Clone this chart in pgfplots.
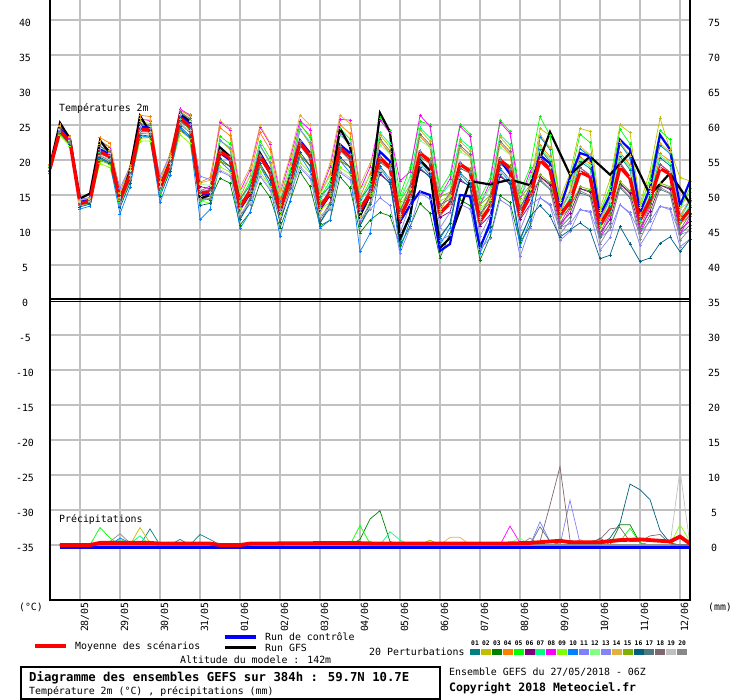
\documentclass[border=0pt]{standalone}
\usepackage{fontspec}
\setmainfont{DejaVu Sans Mono}
\usepackage{pgfplots}
\pgfplotsset{compat=1.18}
\usepackage{pgfplotstable}
\definecolor{c01}{HTML}{008080}
\definecolor{c02}{HTML}{C0C000}
\definecolor{c03}{HTML}{008000}
\definecolor{c04}{HTML}{FF8000}
\definecolor{c05}{HTML}{00FF00}
\definecolor{c06}{HTML}{800080}
\definecolor{c07}{HTML}{00FF80}
\definecolor{c08}{HTML}{FF00FF}
\definecolor{c09}{HTML}{80FF00}
\definecolor{c10}{HTML}{0080FF}
\definecolor{c11}{HTML}{8080FF}
\definecolor{c12}{HTML}{80FF80}
\definecolor{c13}{HTML}{8484F4}
\definecolor{c14}{HTML}{E0B040}
\definecolor{c15}{HTML}{80B000}
\definecolor{c16}{HTML}{006080}
\definecolor{c17}{HTML}{507880}
\definecolor{c18}{HTML}{806870}
\definecolor{c19}{HTML}{C0C0C0}
\definecolor{c20}{HTML}{888888}
\definecolor{gridgray}{HTML}{C0C0C0}
\newcommand\ft{\fontsize{9.9pt}{11pt}\selectfont}
\pgfplotstableread{
k p01 p02 p03 p04 p05 p06 p07 p08 p09 p10 p11 p12 p13 p14 p15 p16 p17 p18 p19 p20 c m
0 18.9 18.9 18.5 19.4 18.6 18.9 18.6 19.0 18.4 18.1 19.3 19.1 18.6 19.2 18.6 18.4 18.8 18.9 18.8 18.6 18.9 18.8
1 24.5 24.6 23.8 25.0 24.1 24.1 24.2 24.8 23.5 23.8 24.4 24.4 24.3 24.8 23.7 23.9 24.1 24.5 24.0 24.0 24.5 24.2
2 22.8 23.0 22.2 23.4 22.5 22.6 22.5 23.1 22.0 22.2 22.8 22.8 22.7 23.2 22.2 22.2 22.5 22.9 22.4 22.4 22.8 22.6
3 13.8 13.8 13.6 14.2 13.5 14.0 13.6 13.8 13.5 13.0 14.4 14.1 13.5 14.2 13.8 13.3 13.9 13.8 13.9 13.6 14.0 13.8
4 14.2 14.2 13.8 14.7 13.9 14.2 13.9 14.3 13.7 13.4 14.6 14.4 13.9 14.5 13.9 13.7 14.1 14.2 14.1 13.9 14.3 14.1
5 21.9 22.3 20.1 23.2 21.0 21.0 21.1 22.7 19.5 20.3 21.6 21.6 21.5 22.7 19.9 20.4 20.9 22.0 20.7 20.6 21.5 21.2
6 21.1 21.4 19.5 22.4 20.2 20.4 20.3 21.8 18.9 19.4 21.1 21.0 20.7 21.9 19.4 19.6 20.3 21.2 20.1 19.9 20.8 20.5
7 14.3 14.3 13.9 15.4 13.6 15.0 13.9 14.5 13.7 12.3 16.0 15.2 13.7 15.3 14.5 13.2 14.7 14.4 14.7 13.8 14.5 14.4
8 18.0 18.1 17.1 19.2 17.2 18.1 17.4 18.4 16.7 16.1 19.0 18.5 17.4 18.9 17.4 16.7 17.9 18.1 17.8 17.2 18.0 17.8
9 25.1 25.5 23.3 26.4 24.2 24.2 24.3 25.9 22.7 23.5 24.8 24.8 24.7 25.9 23.1 23.6 24.1 25.2 23.9 23.8 24.8 24.4
10 24.9 25.2 23.3 26.2 24.0 24.2 24.1 25.6 22.7 23.2 24.9 24.8 24.5 25.7 23.2 23.4 24.1 25.0 23.9 23.7 24.6 24.3
11 15.9 15.9 15.5 17.0 15.2 16.6 15.5 16.1 15.3 13.9 17.6 16.8 15.3 16.9 16.1 14.8 16.3 16.0 16.3 15.4 15.8 16.0
12 19.7 19.8 18.8 20.9 18.9 19.8 19.1 20.1 18.4 17.8 20.7 20.2 19.1 20.6 19.1 18.4 19.6 19.8 19.5 18.9 19.6 19.5
13 26.8 27.2 24.3 27.0 25.7 25.7 25.8 27.3 23.6 24.6 26.4 26.5 26.4 27.1 24.2 24.8 25.5 26.9 25.2 25.1 26.3 26.0
14 25.7 26.2 23.3 26.5 24.3 24.6 24.5 26.4 22.4 23.1 25.7 25.6 25.1 26.3 23.1 23.4 24.5 25.9 24.2 23.9 25.2 24.8
15 15.1 15.1 14.5 16.8 14.1 16.2 14.5 15.5 14.2 11.5 17.7 16.5 14.2 16.7 15.5 13.5 15.8 15.3 15.8 14.4 15.0 15.3
16 15.7 15.9 14.3 17.5 14.5 15.9 14.8 16.3 13.8 12.9 17.2 16.4 14.9 17.1 14.8 13.8 15.5 15.8 15.4 14.5 15.2 15.4
17 21.0 22.8 17.4 24.6 23.4 19.8 22.8 25.4 19.0 19.8 18.4 22.6 22.8 25.6 19.8 20.2 21.2 21.0 18.6 21.4 21.0 21.2
18 19.9 21.5 16.7 23.5 22.3 19.1 21.7 24.3 18.3 18.5 17.7 21.9 21.7 24.5 19.1 19.1 20.5 19.9 17.9 20.5 20.0 20.3
19 11.5 12.5 10.7 14.7 14.3 13.5 14.1 15.5 13.1 10.2 12.1 15.5 13.3 16.1 13.9 11.5 14.5 11.9 12.3 13.5 13.0 13.3
20 14.3 15.5 12.5 17.7 16.9 15.1 16.5 18.5 14.5 12.5 13.7 17.5 16.1 18.9 15.3 13.9 16.3 14.5 13.9 15.7 15.2 15.5
21 20.3 22.1 16.7 23.9 22.7 19.1 22.1 24.7 18.3 19.1 17.7 21.9 22.1 24.9 19.1 19.5 20.5 20.3 17.9 20.7 20.8 20.5
22 17.9 19.5 14.7 21.5 20.3 17.1 19.7 22.3 16.3 16.5 15.7 19.9 19.7 22.5 17.1 17.1 18.5 17.9 15.9 18.5 18.6 18.3
23 11.1 12.1 10.3 14.3 13.9 13.1 13.7 15.1 12.7 9.1 11.7 15.1 12.9 15.7 13.5 11.1 14.1 11.5 11.9 13.1 12.5 12.9
24 15.9 17.1 14.1 19.3 18.5 16.7 18.1 20.1 16.1 14.1 15.3 19.1 17.7 20.5 16.9 15.5 17.9 16.1 15.5 17.3 17.4 17.1
25 22.1 24.4 18.3 25.0 25.2 20.6 24.4 25.6 19.6 20.6 18.9 24.2 24.4 26.4 20.6 21.1 22.4 22.1 19.1 22.7 22.8 22.4
26 20.2 22.2 16.2 23.5 23.2 19.2 22.5 24.3 18.2 18.4 17.4 22.7 22.5 25.0 19.2 19.2 21.0 20.2 17.7 21.0 21.0 20.7
27 11.0 12.3 10.6 15.1 14.6 13.6 14.3 15.2 13.0 10.3 11.8 15.0 13.3 15.5 14.1 11.0 14.8 11.5 12.0 13.6 13.0 13.3
28 13.7 15.2 11.4 18.0 17.0 14.7 16.5 19.0 13.9 11.4 12.9 17.7 16.0 19.5 14.9 13.2 16.2 13.9 13.2 15.5 15.0 15.2
29 21.4 23.7 17.6 25.0 24.5 19.9 23.7 25.8 18.9 19.9 18.2 23.5 23.7 26.4 19.9 20.4 21.7 21.4 18.4 22.0 22.2 21.7
30 20.0 22.0 16.0 23.8 23.0 19.0 22.3 25.7 18.0 18.2 17.2 22.5 22.3 25.2 19.0 19.0 20.8 20.0 17.5 20.8 21.0 20.5
31 10.6 11.9 9.6 14.7 14.2 13.2 13.9 15.7 12.6 6.9 11.4 15.7 12.9 16.4 13.7 10.6 14.4 11.1 11.6 13.2 12.5 12.9
32 13.7 15.2 11.4 18.0 17.0 14.7 16.5 19.0 13.9 9.5 12.9 17.7 16.0 19.5 14.9 13.2 16.2 13.9 13.2 15.5 15.0 15.2
33 19.1 23.6 12.5 22.7 26.0 17.9 23.9 25.7 19.7 18.8 14.6 22.1 20.6 22.7 20.3 18.2 19.7 23.0 18.5 20.3 21.2 20.3
34 17.3 21.8 12.0 20.9 24.2 16.8 22.3 23.9 18.7 16.9 13.5 20.9 18.8 21.0 19.3 16.6 18.6 21.3 17.5 18.9 19.8 18.9
35 8.1 12.0 7.8 11.1 15.0 11.1 14.1 17.0 13.5 7.2 6.7 14.7 9.6 12.3 14.1 8.4 12.9 12.6 12.3 11.7 11.2 11.7
36 12.0 16.2 10.5 15.3 18.9 13.6 17.6 18.3 15.8 11.3 10.3 17.4 13.5 16.0 16.4 11.9 15.4 16.3 14.6 14.8 13.5 14.8
37 19.8 24.3 13.8 23.4 25.5 18.6 24.6 26.4 20.4 19.5 15.3 22.8 21.3 23.4 21.0 18.9 20.4 23.7 19.2 21.0 15.5 21.0
38 18.2 22.7 12.4 21.8 25.1 17.7 23.2 24.8 19.6 17.8 14.4 21.8 19.7 21.9 20.2 17.5 19.5 22.2 18.4 19.8 15.0 19.8
39 8.8 12.7 6.0 11.8 15.7 11.8 14.8 14.8 14.2 7.9 8.5 15.4 10.3 13.0 14.8 9.1 13.6 13.3 13.0 12.4 7.0 12.4
40 11.0 15.2 9.5 14.3 17.9 12.6 16.6 17.3 14.8 10.3 9.3 16.4 12.5 15.0 15.4 10.9 14.4 15.3 13.6 13.8 8.0 13.8
41 18.2 22.7 14.3 21.8 25.1 17.0 23.0 24.8 18.8 17.9 13.7 21.2 19.7 21.8 19.4 17.3 18.8 22.1 17.6 19.4 15.0 19.4
42 16.8 21.3 13.5 20.4 23.7 16.3 21.8 23.4 18.2 16.4 13.0 20.4 18.3 20.5 18.8 16.1 18.1 20.8 17.0 18.4 14.8 18.4
43 7.6 11.5 5.7 10.6 14.5 10.6 13.6 13.6 13.0 6.7 7.3 14.2 9.1 11.8 13.6 7.9 12.4 12.1 11.8 11.2 7.4 11.2
44 10.5 14.7 9.0 13.8 17.4 12.1 16.1 16.8 14.3 9.8 8.8 15.9 12.0 14.5 14.9 10.4 13.9 14.8 13.1 13.3 11.0 13.3
45 18.8 23.3 14.9 22.4 25.7 17.6 23.6 25.4 19.4 18.5 14.3 21.8 20.3 22.4 20.0 17.9 19.4 22.7 18.2 20.0 20.0 20.0
46 17.2 21.7 13.9 20.8 24.1 16.7 22.2 23.8 18.6 16.8 13.4 20.8 18.7 20.9 19.2 16.5 18.5 21.2 17.4 18.8 18.0 18.8
47 8.5 12.4 8.2 11.5 15.4 11.5 14.5 14.5 13.9 7.6 6.2 15.1 10.0 12.7 14.5 8.8 13.3 13.0 12.7 12.1 12.0 12.1
48 12.0 16.2 10.5 15.3 18.9 13.6 17.6 18.3 15.8 11.3 10.3 17.4 13.5 16.0 16.4 11.9 15.4 16.3 14.6 14.8 15.5 14.8
49 21.5 24.5 17.6 22.1 26.2 17.6 21.8 20.6 23.3 23.3 14.6 21.8 14.6 23.6 17.9 13.5 17.0 20.6 20.0 17.3 20.7 20.0
50 19.8 23.5 16.6 20.5 23.5 16.4 20.1 18.8 21.7 21.5 13.7 20.2 13.5 21.8 16.8 12.0 15.8 18.9 18.9 15.9 19.5 18.6
51 11.8 14.5 12.7 13.0 13.9 10.9 12.1 10.3 14.2 12.4 10.3 12.7 8.5 12.7 11.8 9.0 10.3 10.9 13.9 9.4 13.1 12.1
52 14.3 18.1 13.5 15.3 17.1 12.4 14.6 13.0 16.5 15.4 10.9 15.0 9.8 15.7 13.1 10.0 11.8 13.4 15.2 11.3 17.5 14.0
53 19.8 24.5 15.9 20.4 23.7 15.9 20.1 18.9 21.6 21.6 12.9 20.1 12.9 21.9 16.2 11.0 15.3 18.9 18.3 15.6 21.0 18.3
54 18.8 24.1 15.6 19.5 22.5 15.4 19.1 17.8 20.7 20.5 12.7 19.2 12.5 20.8 15.8 10.0 14.8 17.9 17.9 14.9 20.5 17.6
55 10.4 13.1 11.3 11.6 12.5 9.5 10.7 8.9 12.8 11.0 8.9 11.3 7.1 11.3 10.4 5.9 8.9 9.5 12.5 8.0 12.1 10.7
56 13.4 17.2 12.6 14.4 16.2 11.5 13.7 12.1 15.6 14.5 10.0 14.1 8.9 14.8 12.2 6.4 10.9 12.5 14.3 10.4 15.0 13.1
57 20.5 25.0 16.6 21.1 24.4 16.6 20.8 19.6 22.3 22.3 13.6 20.8 13.6 22.6 16.9 10.5 16.0 19.6 19.0 16.3 22.9 19.0
58 18.6 23.9 15.4 19.3 22.3 15.2 18.9 17.6 20.5 20.3 12.5 19.0 12.3 20.6 15.6 8.0 14.6 17.7 17.7 14.7 21.5 17.4
59 11.1 13.8 12.0 12.3 13.2 10.2 11.4 9.6 13.5 11.7 9.6 12.0 7.8 12.0 11.1 5.5 9.6 10.2 13.2 8.7 12.5 11.4
60 14.6 18.4 13.8 15.6 17.4 12.7 14.9 13.3 16.8 15.7 11.2 15.3 10.1 16.0 13.4 6.0 12.1 13.7 15.5 11.6 16.0 14.3
61 20.3 26.0 16.4 20.9 24.2 16.4 20.6 19.4 22.1 22.1 13.4 20.6 13.4 22.4 16.7 8.1 15.8 19.4 18.8 16.1 23.6 18.8
62 19.2 21.5 16.0 19.9 22.9 15.8 19.5 18.2 21.1 20.9 13.1 19.6 12.9 21.2 16.2 9.0 15.2 18.3 18.3 15.3 21.5 18.0
63 10.9 17.5 11.8 12.1 13.0 10.0 11.2 9.4 13.3 11.5 9.4 11.8 7.6 11.8 10.9 6.9 9.4 10.0 13.0 8.5 13.5 11.2
64 13.2 17.0 12.4 14.2 16.0 11.3 13.5 11.9 15.4 14.3 9.8 13.9 8.7 14.6 12.0 8.7 10.7 12.3 14.1 10.2 17.0 12.9
}\temps
\pgfplotsset{memb/.style={line width=0.7pt, mark=+, mark size=1.5pt, mark options={solid, line width=0.5pt}},
  pr/.style={line width=0.7pt, mark=none}}
\begin{document}
\begin{tikzpicture}[x=1pt,y=1pt]
\path[use as bounding box] (0,0) rectangle (740,700);
\begin{axis}[at={(50pt,100pt)}, anchor=south west, scale only axis,
  width=640pt, height=600pt, xmin=0, xmax=64, ymin=-42.857, ymax=42.857,
  axis line style={draw=none}, tick style={draw=none},
  xtick={3,7,11,15,19,23,27,31,35,39,43,47,51,55,59,63},
  ytick={-35,-30,-25,-20,-15,-10,-5,5,10,15,20,25,30,35,40},
  xticklabels={}, yticklabels={},
  tick label style={text opacity=0, opacity=0},
  grid=major, grid style={color=gridgray, line width=1.2pt}]
% temperature members
\addplot[c01, memb] table[x=k,y=p01]{\temps};
\addplot[c02, memb] table[x=k,y=p02]{\temps};
\addplot[c03, memb] table[x=k,y=p03]{\temps};
\addplot[c04, memb] table[x=k,y=p04]{\temps};
\addplot[c05, memb] table[x=k,y=p05]{\temps};
\addplot[c06, memb] table[x=k,y=p06]{\temps};
\addplot[c07, memb] table[x=k,y=p07]{\temps};
\addplot[c08, memb] table[x=k,y=p08]{\temps};
\addplot[c09, memb] table[x=k,y=p09]{\temps};
\addplot[c10, memb] table[x=k,y=p10]{\temps};
\addplot[c11, memb] table[x=k,y=p11]{\temps};
\addplot[c12, memb] table[x=k,y=p12]{\temps};
\addplot[c13, memb] table[x=k,y=p13]{\temps};
\addplot[c14, memb] table[x=k,y=p14]{\temps};
\addplot[c15, memb] table[x=k,y=p15]{\temps};
\addplot[c16, memb] table[x=k,y=p16]{\temps};
\addplot[c17, memb] table[x=k,y=p17]{\temps};
\addplot[c18, memb] table[x=k,y=p18]{\temps};
\addplot[c19, memb] table[x=k,y=p19]{\temps};
\addplot[c20, memb] table[x=k,y=p20]{\temps};
% GFS run
\addplot[black, line width=2.2pt, mark=none] coordinates {(0,19.2)(1,25.3)(2,23.0)(3,14.5)(4,15.2)(5,22.8)(6,21.0)(7,14.2)(8,18.5)(9,26.3)(10,24.0)(11,16.2)(12,19.8)(13,26.5)(14,25.5)(15,14.5)(16,15.0)(17,21.8)(18,20.5)(19,13.8)(20,15.0)(21,21.0)(22,18.5)(23,12.5)(24,17.5)(25,22.5)(26,21.0)(27,13.0)(28,15.5)(29,24.5)(30,22.0)(31,12.0)(32,15.0)(33,26.7)(34,24.0)(35,8.8)(36,12.0)(37,20.0)(38,18.5)(39,7.4)(40,8.9)(42,17.0)(44,16.5)(46,17.2)(48,16.4)(50,24.0)(52,17.9)(54,20.5)(56,17.9)(58,21.0)(60,15.0)(62,18.1)(64,13.8)};
% control run
\addplot[blue, line width=2.2pt, mark=none] table[x=k,y=c]{\temps};
% mean
\addplot[red, line width=3.4pt, mark=none] table[x=k,y=m]{\temps};
% precipitation (plotted at -35 + mm)
\addplot[c01, pr] coordinates {(1,-35)(9,-35)(10,-32.7)(11,-35)(12,-35)(13,-34.2)(14,-35)(15,-33.5)(16,-34.2)(17,-35)(54,-35)(55,-34.0)(56,-35)(64,-35)};
\addplot[c02, pr] coordinates {(1,-35)(8,-35)(9,-32.5)(10,-34.7)(11,-35)(29,-35)(30,-34.6)(31,-35)(64,-35)};
\addplot[c03, pr] coordinates {(1,-35)(30,-35)(31,-34.2)(32,-31.3)(33,-30.1)(34,-34.5)(35,-35)(56,-35)(57,-32.1)(58,-32.1)(59,-34.7)(60,-35)(64,-35)};
\addplot[c04, pr] coordinates {(1,-35)(5,-35)(6,-34.5)(7,-34.8)(8,-35)(62,-35)(63,-33.6)(64,-35)};
\addplot[c05, pr] coordinates {(1,-35)(4,-35)(5,-32.5)(6,-34.0)(7,-35)(30,-35)(31,-32.2)(32,-34.8)(33,-35)(57,-34.5)(58,-32.6)(59,-34.7)(60,-35)(64,-35)};
\addplot[c06, pr] coordinates {(1,-35)(6,-35)(7,-34.7)(8,-35)(52,-35)(53,-34.5)(54,-35)(64,-35)};
\addplot[c07, pr] coordinates {(1,-35)(6,-35)(7,-34.2)(8,-34.8)(9,-33.7)(10,-35)(33,-35)(34,-33.1)(35,-34.3)(36,-35)(64,-35)};
\addplot[c08, pr] coordinates {(1,-35)(45,-35)(46,-32.3)(47,-34.7)(48,-35)(54,-35)(55,-34.7)(56,-35)(64,-35)};
\addplot[c09, pr] coordinates {(1,-35)(62,-35)(63,-32.1)(64,-34.5)};
\addplot[c10, pr] coordinates {(1,-35)(6,-35)(7,-34.0)(8,-34.7)(9,-35)(64,-35)};
\addplot[c11, pr] coordinates {(1,-35)(48,-35)(49,-31.7)(50,-34.5)(51,-35)(64,-35)};
\addplot[c12, pr] coordinates {(1,-35)(45,-35)(46,-34.7)(47,-34.0)(48,-35)(64,-35)};
\addplot[c13, pr] coordinates {(1,-35)(51,-35)(52,-28.6)(53,-34.7)(54,-35)(64,-35)};
\addplot[c14, pr] coordinates {(1,-35)(39,-35)(40,-33.9)(41,-33.9)(42,-35)(52,-35)(53,-34.2)(54,-35)(64,-35)};
\addplot[c15, pr] coordinates {(1,-35)(37,-35)(38,-34.3)(39,-35)(64,-35)};
\addplot[c16, pr] coordinates {(1,-35)(55,-35)(56,-34.0)(57,-31.9)(58,-26.3)(59,-27.1)(60,-28.5)(61,-32.9)(62,-34.7)(63,-35)(64,-35)};
\addplot[c17, pr] coordinates {(1,-35)(48,-35)(49,-32.4)(50,-34.5)(51,-34.9)(52,-35)(64,-35)};
\addplot[c18, pr] coordinates {(1,-35)(48,-35)(49,-34.5)(50,-29.3)(51,-23.8)(52,-34.3)(53,-34.8)(55,-34.2)(56,-32.7)(57,-32.5)(58,-34.5)(59,-34.5)(60,-33.7)(61,-33.5)(62,-34.8)(63,-35)(64,-35)};
\addplot[c19, pr] coordinates {(1,-35)(62,-35)(63,-24.3)(64,-35)};
\addplot[c20, pr] coordinates {(1,-35)(5,-35)(6,-34.5)(7,-33.4)(8,-34.7)(9,-35)(47,-35)(48,-34.0)(49,-35)(64,-35)};
\addplot[blue, line width=2.2pt, mark=none] coordinates {(1,-35.35)(64,-35.35)};
\addplot[red, line width=3.8pt, mark=none] coordinates {(1,-35)(4,-35)(5,-34.7)(10,-34.7)(11,-34.8)(16,-34.8)(17,-35)(19,-35)(20,-34.8)(30,-34.7)(33,-34.8)(45,-34.8)(48,-34.7)(50,-34.5)(51,-34.4)(52,-34.6)(55,-34.6)(57,-34.3)(59,-34.2)(61,-34.4)(62,-34.5)(63,-33.8)(64,-34.8)};
\end{axis}
% frame
\draw[line width=1.3pt] (50,100) -- (50,700);
\draw[line width=1.3pt] (690,100) -- (690,700);
\draw[line width=1.3pt] (49.35,100) -- (690.65,100);
\draw[line width=1.7pt] (50,400.8) -- (690,400.8);
\draw[line width=1.1pt] (50,398.2) -- (690,398.2);
% y tick labels
\foreach \v in {40,35,...,-35} {
  \pgfmathtruncatemacro\r{\v+35}
  \node[font=\ft, inner sep=0pt] at (25,{400+7*\v-3}) {\v};
  \node[font=\ft, inner sep=0pt] at (714,{400+7*\v-3}) {\r};
}
% date labels
\foreach \d [count=\i from 0] in {28/05,29/05,30/05,31/05,01/06,02/06,03/06,04/06,05/06,06/06,07/06,08/06,09/06,10/06,11/06,12/06}
  \node[font=\ft, rotate=90, anchor=east, inner sep=0pt] at ({85+40*\i},98) {\d};
\node[font=\ft, inner sep=0pt] at (31,93) {(°C)};
\node[font=\ft, inner sep=0pt] at (720,93) {(mm)};
% panel titles
\node[font=\ft, anchor=west, inner sep=0pt] at (59,591) {Températures 2m};
\node[font=\ft, anchor=west, inner sep=0pt] at (59,180) {Précipitations};
% legend
\draw[red, line width=4pt] (35,53.5) -- (66,53.5);
\node[font=\ft, anchor=west, inner sep=0pt] at (75,53) {Moyenne des scénarios};
\draw[blue, line width=3.5pt] (225,63) -- (256,63);
\node[font=\ft, anchor=west, inner sep=0pt] at (265,63) {Run de contrôle};
\draw[black, line width=3.5pt] (225,52.5) -- (256,52.5);
\node[font=\ft, anchor=west, inner sep=0pt] at (265,52.5) {Run GFS};
\node[font=\ft, anchor=west, inner sep=0pt] at (180,40) {Altitude du modele : 142m};
\node[font=\ft, anchor=west, inner sep=0pt] at (369,48.3) {20 Perturbations};
\foreach \c [count=\i from 0] in {01,02,03,04,05,06,07,08,09,10,11,12,13,14,15,16,17,18,19,20} {
  \fill[c\c] ({470+10.9*\i},44.5) rectangle ({480+10.9*\i},50.5);
  \node[font=\fontsize{6.3pt}{7pt}\selectfont\bfseries, inner sep=0pt] at ({475+10.9*\i},56.5) {\c};
}
\draw[line width=1.4pt] (21,0.8) rectangle (440,33);
\node[font=\fontsize{12.3pt}{14pt}\selectfont\bfseries, anchor=west, inner sep=0pt] at (29,22.5) {Diagramme des ensembles GEFS sur 384h : 59.7N 10.7E};
\node[font=\ft, anchor=west, inner sep=0pt] at (29,8) {Température 2m (°C) , précipitations (mm)};
\node[font=\ft, anchor=west, inner sep=0pt] at (449,28.3) {Ensemble GEFS du 27/05/2018 - 06Z};
\node[font=\fontsize{11.5pt}{13pt}\selectfont\bfseries, anchor=west, inner sep=0pt] at (449,12) {Copyright 2018 Meteociel.fr};
\end{tikzpicture}
\end{document}
